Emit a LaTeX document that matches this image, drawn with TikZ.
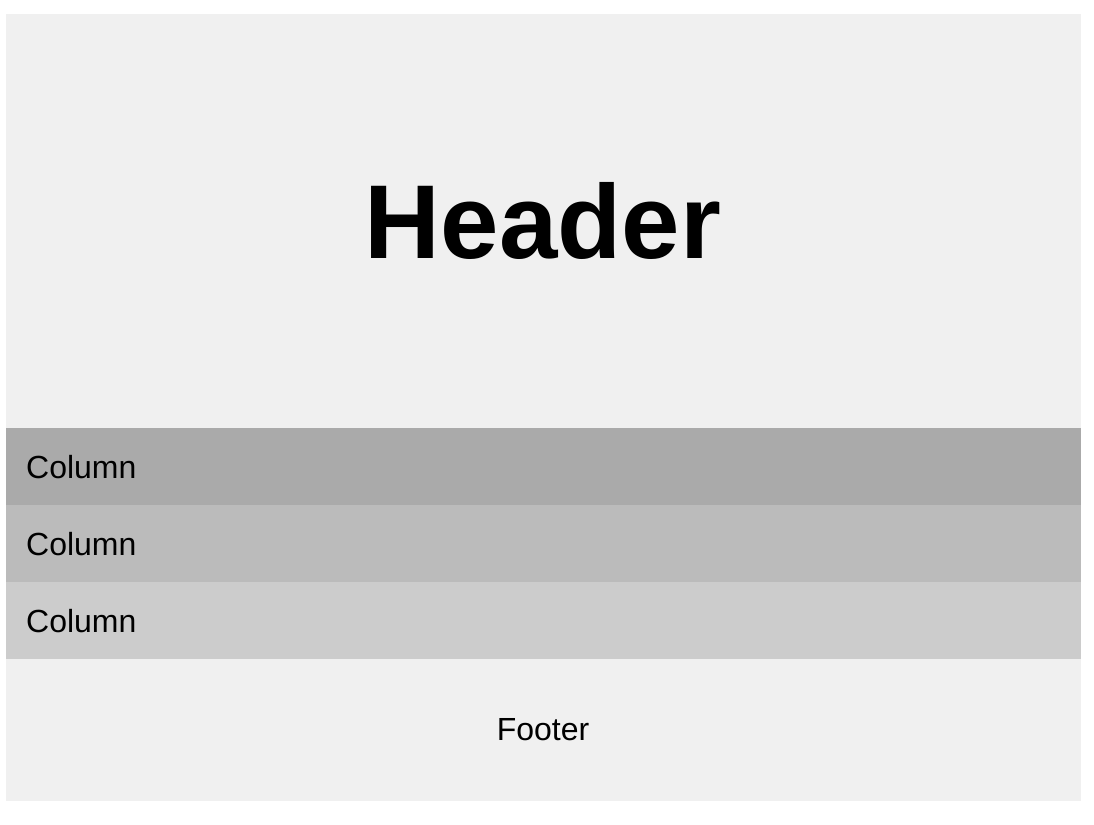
\documentclass[tikz,border=0pt]{standalone}
\usepackage{fontspec}
\setmainfont{Liberation Sans}
\usetikzlibrary{positioning}

\definecolor{panel}{HTML}{F0F0F0}
\definecolor{rowA}{HTML}{AAAAAA}
\definecolor{rowB}{HTML}{BBBBBB}
\definecolor{rowC}{HTML}{CCCCCC}

\begin{document}
\begin{tikzpicture}[
	x = 1pt, y = 1pt,
	band/.style = {rectangle, fill=#1, draw=#1, line width=0.4pt, inner sep=0pt, outer sep=0pt,
		minimum width=1073.6pt, anchor=north},
	row/.style = {band=#1, minimum height=77pt, text width=1033.6pt, inner xsep=20pt, align=left,
		font=\fontsize{32}{38}\selectfont},
	node distance = 0pt
]

\useasboundingbox (0,0) rectangle (1094,-824);

\node[band=panel, minimum height=414pt, font=\fontsize{105}{110}\selectfont\bfseries] (header) at (543,-14.2) {Header};

\node[row=rowA, below=of header] (col1) {Column};
\node[row=rowB, below=of col1] (col2) {Column};
\node[row=rowC, below=of col2] (col3) {Column};

\node[band=panel, minimum height=140.6pt, font=\fontsize{32}{38}\selectfont, below=of col3] (footer) {Footer};

\end{tikzpicture}
\end{document}
